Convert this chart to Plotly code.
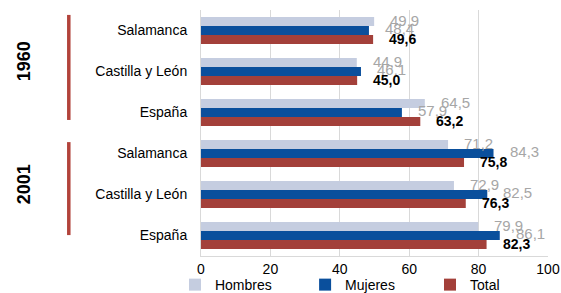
import plotly.graph_objects as go

years = ["1960", "1960", "1960", "2001", "2001", "2001"]
regions = ["Salamanca", "Castilla y León", "España", "Salamanca", "Castilla y León", "España"]
hombres = [49.9, 44.9, 64.5, 71.2, 72.9, 79.9]
mujeres = [48.4, 46.1, 57.9, 84.3, 82.5, 86.1]
total = [49.6, 45.0, 63.2, 75.8, 76.3, 82.3]
x_ticks = [0, 20, 40, 60, 80, 100]
group_labels = ["1960", "2001"]

keys = [f"{y}|{r}" for y, r in zip(years, regions)]

FONT = "Arial, Liberation Sans, sans-serif"
series = [
    ("Hombres", hombres, "#C5CDE0", "legend"),
    ("Mujeres", mujeres, "#0A4F9C", "legend2"),
    ("Total", total, "#A3403A", "legend3"),
]

fig = go.Figure()
for name, vals, color, lg in series:
    fig.add_trace(go.Bar(
        y=keys, x=vals, name=name, orientation="h",
        marker=dict(color=color, line=dict(width=0)),
        legend=lg, hoverinfo="x+name",
    ))

def fmt(v):
    return f"{v:.1f}".replace(".", ",")

annotations = []
shifts = {"Hombres": 10, "Mujeres": 2, "Total": -8}
for name, vals, color, lg in series:
    for k, v in zip(keys, vals):
        bold = name == "Total"
        annotations.append(dict(
            x=v, y=k, xref="x", yref="y", text=f"<b>{fmt(v)}</b>" if bold else fmt(v),
            showarrow=False, xanchor="left", yanchor="middle",
            xshift=14, yshift=shifts[name],
            font=dict(family=FONT, size=14 if bold else 15, color="#000000" if bold else "#A6A6A6"),
        ))

# group labels and red lines
ncat = len(keys)
line_pad = [(0.02, 0.053), (0.037, 0.085)]
for gi, g in enumerate(group_labels):
    idx = [i for i, y in enumerate(years) if y == g]
    top = 1 - idx[0] / ncat
    bot = 1 - (idx[-1] + 1) / ncat
    mid = (top + bot) / 2
    annotations.append(dict(
        x=-0.51, y=mid + 0.042, xref="paper", yref="paper", text=f"<b>{g}</b>",
        showarrow=False, textangle=-90, xanchor="center", yanchor="middle",
        font=dict(family=FONT, size=18, color="#000000"),
    ))
    fig.add_shape(type="line", xref="paper", yref="paper",
                  x0=-0.381, x1=-0.381, y0=top - line_pad[gi][0], y1=bot + line_pad[gi][1],
                  line=dict(color="#B2433B", width=3.5))

leg_common = dict(orientation="h", y=-0.118, xanchor="left", yanchor="middle",
                  font=dict(size=14), bgcolor="rgba(0,0,0,0)")

fig.update_layout(
    width=561, height=293,
    margin=dict(l=201, r=13, t=10, b=37, autoexpand=False),
    paper_bgcolor="white", plot_bgcolor="white",
    barmode="group", bargap=0.34, bargroupgap=0,
    font=dict(family=FONT, size=14, color="#000000"),
    annotations=annotations,
    xaxis=dict(range=[0, 100], tickvals=x_ticks, ticktext=[str(t) for t in x_ticks],
               showgrid=True, gridcolor="#D9D9D9", gridwidth=1,
               showline=True, linecolor="#D9D9D9", zeroline=False,
               ticklabeloverflow="allow",
               tickfont=dict(size=14, color="#000000"), fixedrange=True),
    yaxis=dict(tickvals=keys, ticktext=regions, autorange="reversed",
               showline=True, linecolor="#D9D9D9", showgrid=False,
               ticklabelstandoff=10,
               tickfont=dict(size=14, color="#000000"), fixedrange=True),
    legend=dict(x=-0.075, **leg_common),
    legend2=dict(x=0.30, **leg_common),
    legend3=dict(x=0.66, **leg_common),
    showlegend=True,
)

# remove the browser's default 8px body margin so the figure fills the window
fig.write_html("out.html", config={"displayModeBar": False},
               post_script="document.body.style.margin='0';document.body.style.overflow='hidden';")
